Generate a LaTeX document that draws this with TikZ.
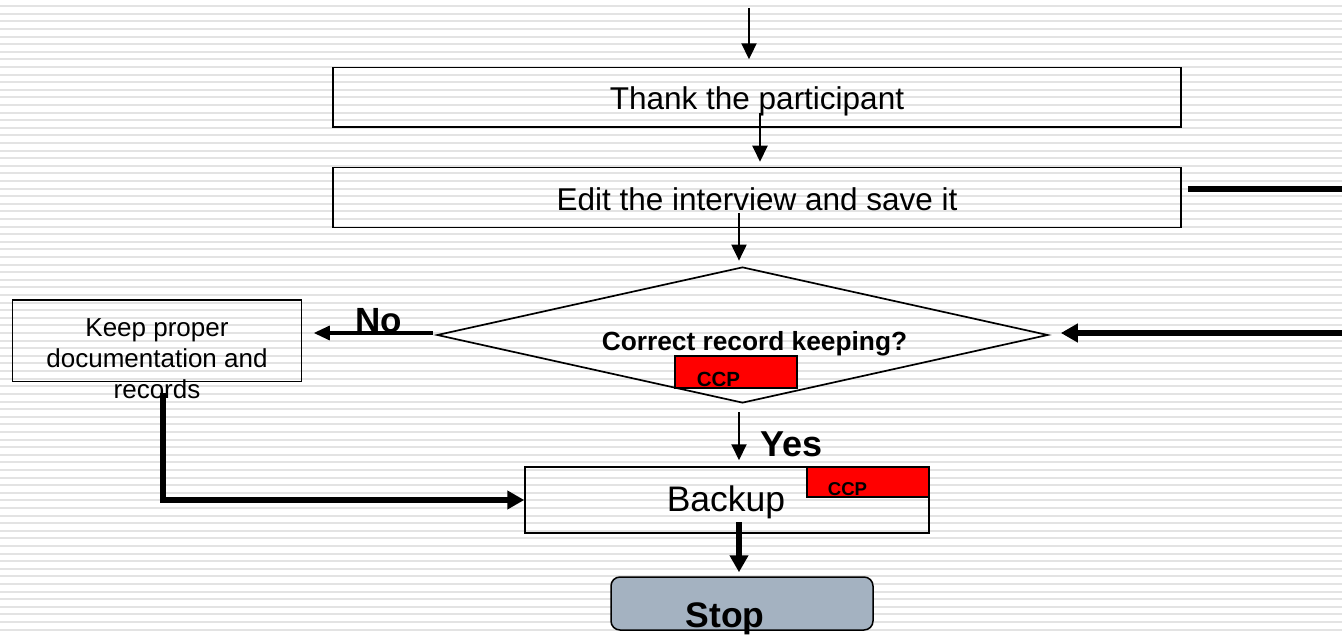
\documentclass[tikz,border=0pt]{standalone}
\usepackage{fontspec}
\setmainfont{Liberation Sans}
\usetikzlibrary{arrows.meta,shapes.geometric}
\definecolor{stripegray}{RGB}{227,227,227}
\definecolor{stopfill}{RGB}{164,178,193}
\definecolor{ccpred}{RGB}{255,0,0}
\begin{document}
\begin{tikzpicture}[x=1pt,y=-1pt,
  stripe/.style={draw=stripegray,line width=2pt},
  box/.style={draw=black,line width=1.5pt,inner sep=0pt,rectangle},
  dia/.style={draw=black,line width=1.7pt,inner sep=0pt,diamond},
  ccpbox/.style={draw=black,line width=1.5pt,fill=ccpred,inner sep=0pt,rectangle},
  stopbox/.style={draw=black,line width=1.5pt,fill=stopfill,rounded corners=9pt,inner sep=0pt,rectangle},
  txt/.style={inner sep=0pt,anchor=base},
  bigtxt/.style={txt,font=\fontsize{31.5}{37}\selectfont},
  smalltxt/.style={txt,font=\fontsize{26}{30}\selectfont},
  thinarr/.style={draw=black,line width=2pt,-{Triangle[length=16pt,width=15pt]}},
  midarr/.style={draw=black,line width=3.2pt,-{Triangle[length=16pt,width=14pt]}},
  thickarr/.style={draw=black,line width=5.5pt,-{Triangle[length=17pt,width=18pt]}},
  thickline/.style={draw=black,line width=5.5pt}]
\useasboundingbox (0,0) rectangle (1342,636);
\fill[white] (0,0) rectangle (1342,636);
\foreach \k in {0,...,82} {\draw[stripe] (0,6.3+7.6*\k) -- (1342,6.3+7.6*\k);}

% boxes
\node[box,minimum width=848pt,minimum height=59.5pt] (thank) at (757,97.5) {};
\node[bigtxt] (thankt) at (757,110) {Thank the participant};
\node[box,minimum width=848pt,minimum height=60pt] (edit) at (757,197.5) {};
\node[bigtxt] (editt) at (757,210.5) {Edit the interview and save it};

\node[dia,minimum width=611pt,minimum height=136pt] (q) at (742.5,335) {};
\node[txt,font=\bfseries\fontsize{26.3}{30}\selectfont] (qt) at (754.5,351) {Correct record keeping?};
\node[ccpbox,minimum width=122pt,minimum height=32pt] (ccp1) at (736,372) {};
\node[txt,font=\bfseries\fontsize{20.5}{24}\selectfont] (ccp1t) at (718.5,386.5) {CCP};

\node[box,minimum width=289pt,minimum height=81.5pt] (keep) at (157,341) {};
\node[smalltxt] (keep1) at (157,336.7) {Keep proper};
\node[smalltxt] (keep2) at (157,368) {documentation and};
\node[smalltxt] (keep3) at (157,399) {records};

\node[txt,font=\bfseries\fontsize{35}{40}\selectfont] (no) at (378.5,333) {No};
\node[txt,font=\bfseries\fontsize{36}{40}\selectfont] (yes) at (791.5,456.7) {Yes};

\node[box,minimum width=404pt,minimum height=66pt] (backup) at (727,500) {};
\node[txt,font=\fontsize{35.5}{40}\selectfont] (backupt) at (726,511.7) {Backup};
\node[ccpbox,minimum width=122pt,minimum height=30pt] (ccp2) at (868,482) {};
\node[txt,font=\bfseries\fontsize{18.6}{22}\selectfont] (ccp2t) at (847.5,495) {CCP};

\node[stopbox,minimum width=262pt,minimum height=53pt] (stop) at (742,603.5) {};
\node[txt,font=\bfseries\fontsize{35.5}{40}\selectfont] (stopt) at (725,627.5) {Stop};

% connector end points
\coordinate (top0) at (749,8);
\coordinate (a2s) at (760,113);
\coordinate (a3s) at (739,213);
\coordinate (nos) at (433,333);
\coordinate (rin) at (1342,333);
\coordinate (rout) at (1342,189);
\coordinate (kbs) at (163,393);
\coordinate (ys) at (739,412);
\coordinate (bs) at (739,522);

% connectors
\draw[thinarr,shorten >=7.7pt] (top0) -- (top0 |- thank.north);
\draw[thinarr,shorten >=5pt] (a2s) -- (a2s |- edit.north);
\draw[thinarr,shorten >=5.5pt] (a3s) -- (a3s |- q.north);
\draw[midarr,shorten >=11.5pt] (nos) -- (nos -| keep.east);
\draw[thickarr,shorten >=12pt] (rin) -- (rin -| q.east);
\draw[thickline,shorten <=6pt] (rout -| edit.east) -- (rout);
\draw[thickarr] (kbs) |- (backup.west);
\draw[thinarr,shorten >=6pt] (ys) -- (ys |- backup.north);
\draw[thickarr,shorten >=4pt] (bs) -- (bs |- stop.north);
\end{tikzpicture}
\end{document}
